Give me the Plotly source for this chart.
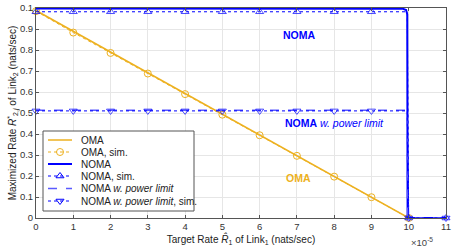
import plotly.graph_objects as go

# x in units of 1e-5 nats/sec
x_sim = [0, 1, 2, 3, 4, 5, 6, 7, 8, 9, 9.96, 10, 11]
sim_marker_on = [1, 1, 1, 1, 1, 1, 1, 1, 1, 1, 0, 1, 1]
oma_x = [0, 10, 11]
oma_y = [0.988, 0.0, 0.0]
oma_sim_x = [0, 1, 2, 3, 4, 5, 6, 7, 8, 9, 10]
oma_sim_y = [0.985, 0.883, 0.786, 0.688, 0.590, 0.492, 0.394, 0.296, 0.197, 0.099, 0.0]
noma_x = [0, 9.7, 9.85, 9.93, 9.96, 9.97, 10, 11]
noma_y = [0.998, 0.998, 0.996, 0.99, 0.97, 0.0, 0.0, 0.0]
noma_sim_y = [0.982, 0.982, 0.982, 0.982, 0.982, 0.982, 0.982, 0.982, 0.982, 0.982, 0.982, 0.0, 0.0]
pl_x = [0, 9.95, 9.97, 10, 11]
pl_y = [0.513, 0.513, 0.0, 0.0, 0.0]
pl_sim_y = [0.51, 0.51, 0.51, 0.51, 0.51, 0.51, 0.51, 0.51, 0.51, 0.51, 0.51, 0.0, 0.0]
x_ticks = [0, 1, 2, 3, 4, 5, 6, 7, 8, 9, 10, 11]
y_ticks = [0, 0.1, 0.2, 0.3, 0.4, 0.5, 0.6, 0.7, 0.8, 0.9, 1.0]
y_ticktext = ["0", "0.1", "0.2", "0.3", "0.4", "0.5", "0.6", "0.7", "0.8", "0.9", "0.1"]
legend_names = ["OMA", "OMA, sim.", "NOMA", "NOMA, sim.",
                "NOMA <i>w. power limit</i>", "NOMA <i>w. power limit</i>, sim."]

ORANGE = "#EDB120"
BLUE = "#0000FF"
LBLUE = "#5A5AFF"

W, H = 464, 249
ML, MR, MT, MB = 36, 18, 8, 31
PW, PH = W - ML - MR, H - MT - MB
XR = [0, 11]
YR = [0, 1]


def px2x(px):
    return XR[0] + (px - ML) / PW * (XR[1] - XR[0])


def py2y(py):
    return YR[0] + (MT + PH - py) / PH * (YR[1] - YR[0])


fig = go.Figure()
fig.add_trace(go.Scatter(x=oma_x, y=oma_y, mode="lines",
                         line=dict(color=ORANGE, width=1.5)))
fig.add_trace(go.Scatter(x=oma_sim_x, y=oma_sim_y, mode="lines+markers",
                         line=dict(color=ORANGE, width=1, dash="dot"),
                         marker=dict(symbol="circle-open", size=7, color=ORANGE),
                         cliponaxis=False))
fig.add_trace(go.Scatter(x=noma_x, y=noma_y, mode="lines",
                         line=dict(color=BLUE, width=2)))
fig.add_trace(go.Scatter(x=x_sim, y=noma_sim_y, mode="lines+markers",
                         line=dict(color=BLUE, width=1, dash="dot"),
                         marker=dict(symbol="triangle-up-open", size=[7 * m for m in sim_marker_on], color=BLUE),
                         cliponaxis=False))
fig.add_trace(go.Scatter(x=pl_x, y=pl_y, mode="lines",
                         line=dict(color=LBLUE, width=1.3, dash="dash")))
fig.add_trace(go.Scatter(x=x_sim, y=pl_sim_y, mode="lines+markers",
                         line=dict(color=BLUE, width=1, dash="dot"),
                         marker=dict(symbol="triangle-down-open", size=[7 * m for m in sim_marker_on], color=BLUE),
                         cliponaxis=False))

# ---- legend drawn by hand (compact MATLAB-style) ----
box_l, box_r, box_t, box_b = 43, 194, 131, 211
fig.add_shape(type="rect", x0=px2x(box_l), x1=px2x(box_r), y0=py2y(box_b), y1=py2y(box_t),
              line=dict(color="#555", width=1), fillcolor="white", layer="between")
row_y = [140, 152, 164, 176, 188.5, 201]
sample_styles = [
    dict(color=ORANGE, width=1.5, dash="solid", marker=None),
    dict(color=ORANGE, width=1, dash="dot", marker="circle-open"),
    dict(color=BLUE, width=2, dash="solid", marker=None),
    dict(color=BLUE, width=1, dash="dot", marker="triangle-up-open"),
    dict(color=LBLUE, width=1.3, dash="dash", marker=None),
    dict(color=BLUE, width=1, dash="dot", marker="triangle-down-open"),
]
for name, ry, st in zip(legend_names, row_y, sample_styles):
    fig.add_trace(go.Scatter(x=[px2x(48), px2x(72)], y=[py2y(ry), py2y(ry)], mode="lines",
                             line=dict(color=st["color"], width=st["width"], dash=st["dash"]),
                             hoverinfo="skip"))
    if st["marker"]:
        fig.add_trace(go.Scatter(x=[px2x(60)], y=[py2y(ry)], mode="markers",
                                 marker=dict(symbol=st["marker"], size=7, color=st["color"]),
                                 hoverinfo="skip"))
    fig.add_annotation(x=px2x(79), y=py2y(ry), text=name, showarrow=False,
                       xanchor="left", yanchor="middle",
                       font=dict(size=10, color="#222"))

fig.add_annotation(x=7.05, y=0.872, text="<b>NOMA</b>", showarrow=False,
                   font=dict(color=BLUE, size=10.5))
fig.add_annotation(x=8.0, y=0.452, text="<b>NOMA</b> <i>w. power limit</i>", showarrow=False,
                   font=dict(color=BLUE, size=10.5))
fig.add_annotation(x=7.05, y=0.19, text="<b>OMA</b>", showarrow=False,
                   font=dict(color=ORANGE, size=10.5))
fig.add_annotation(x=(435 - ML) / PW, y=0, xref="paper", yref="paper", xanchor="right", yanchor="top",
                   yshift=-16, text="×10<sup>-5</sup>", showarrow=False,
                   font=dict(color="#444", size=9.5))

axis_common = dict(showgrid=True, gridcolor="#E6E6E6", gridwidth=1,
                   showline=True, linecolor="#555", linewidth=1, mirror="ticks",
                   ticks="inside", ticklen=3, tickcolor="#555", zeroline=False,
                   automargin=False, tickfont=dict(size=9.5, color="#333"))

fig.update_xaxes(range=XR, tickvals=x_ticks,
                 title=dict(text="Target Rate <i>R̂</i><sub>1</sub> of Link<sub>1</sub> (nats/sec)",
                            font=dict(size=10, color="#222"), standoff=1),
                 **axis_common)
fig.update_yaxes(range=YR, tickvals=y_ticks, ticktext=y_ticktext,
                 title=dict(text="Maximized Rate <i>R</i><sup>*</sup><sub>2,<i>j</i></sub> of Link<sub>2</sub> (nats/sec)",
                            font=dict(size=10, color="#222"), standoff=1),
                 **axis_common)

fig.update_layout(
    width=W, height=H,
    margin=dict(l=ML, r=MR, t=MT, b=MB),
    paper_bgcolor="white", plot_bgcolor="white",
    font=dict(family="Liberation Sans, Arial, sans-serif", color="#222"),
    showlegend=False,
)

fig.write_html("out.html",
               config={"displayModeBar": False, "staticPlot": True},
               post_script="document.body.style.margin='0px';document.body.style.padding='0px';")
